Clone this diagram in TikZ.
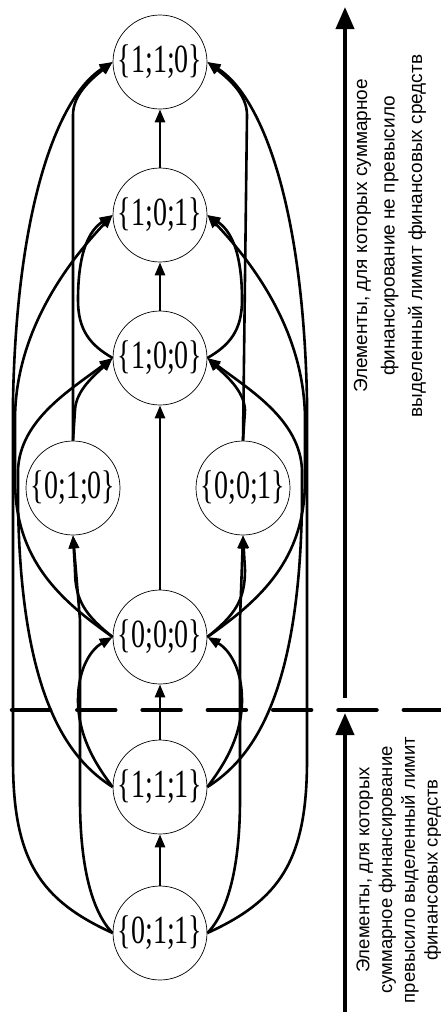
\documentclass[tikz,border=0pt]{standalone}
\usepackage{fontspec}
\setmainfont{Liberation Serif}
\setsansfont{Liberation Sans}
\usetikzlibrary{arrows.meta}
\tikzset{
  st/.style={circle, draw, line width=0.7pt, minimum size=94pt, inner sep=0pt, font=\fontsize{40}{40}\selectfont},
  ed/.style={line width=2.6pt, -{Triangle[length=13pt,width=10pt]}},
  big/.style={line width=4pt, -{Triangle[length=22pt,width=18pt]}},
  lbl/.style={rotate=90, align=center, font=\sffamily\fontsize{19}{27.5}\selectfont},
  lbl2/.style={rotate=90, align=center, font=\sffamily\fontsize{18.5}{22.7}\selectfont},
}
\newcommand{\st}[1]{\scalebox{0.7}[1]{#1}}
\begin{document}
\begin{tikzpicture}[x=1pt,y=-1pt]
\useasboundingbox (0,0) rectangle (441,1012);
\node[st] (A) at (160,62) {\st{\{1;1;0\}}};
\node[st] (B) at (160,215) {\st{\{1;0;1\}}};
\node[st] (C) at (160,358) {\st{\{1;0;0\}}};
\node[st] (D) at (73,488) {\st{\{0;1;0\}}};
\node[st] (E) at (243,488) {\st{\{0;0;1\}}};
\node[st] (F) at (160,637) {\st{\{0;0;0\}}};
\node[st] (G) at (160,787) {\st{\{1;1;1\}}};
\node[st] (H) at (160,933) {\st{\{0;1;1\}}};
% straight
\draw[ed] (B) -- (A);
\draw[ed] (C) -- (B);
\draw[ed] (F) -- (C);
\draw[ed] (G) -- (F);
\draw[ed] (H) -- (G);
% D, E upwards
\draw[ed] (D.north) -- (73,115) .. controls (73,95) and (90,80) .. (A.west);
\draw[ed] (D.north) -- (75,410) .. controls (76,390) and (95,375) .. (C.west);
\draw[ed] (E.north) -- (247,115) .. controls (247,95) and (230,80) .. (A.east);
\draw[ed] (E.north) -- (245,410) .. controls (244,390) and (225,375) .. (C.east);
% F to D, E
\draw[ed] (F.west) .. controls (85,615) and (75,600) .. (75,570) -- (D.south);
\draw[ed] (F.east) .. controls (235,615) and (245,600) .. (245,570) -- (E.south);
% outer
\draw[ed] (H.west) .. controls (40,900) and (13,860) .. (13,760) -- (13,400) .. controls (17,200) and (60,95) .. (A.west);
\draw[ed] (H.east) .. controls (280,900) and (307,860) .. (307,760) -- (307,400) .. controls (303,200) and (260,95) .. (A.east);
% F to B
\draw[ed] (F.west) .. controls (60,600) and (15,560) .. (15,480) -- (15,420) .. controls (15,330) and (70,260) .. (B.west);
\draw[ed] (F.east) .. controls (260,600) and (305,560) .. (305,480) -- (305,420) .. controls (305,330) and (250,260) .. (B.east);
% C to B side
\draw[ed] (C.west) .. controls (90,345) and (78,330) .. (78,300) .. controls (78,250) and (90,230) .. (B.west);
\draw[ed] (C.east) .. controls (230,345) and (242,330) .. (242,300) .. controls (242,250) and (230,230) .. (B.east);
% G
\draw[ed] (G.west) .. controls (100,770) and (78,740) .. (78,700) .. controls (78,670) and (90,650) .. (F.west);
\draw[ed] (G.east) .. controls (220,770) and (242,740) .. (242,700) .. controls (242,670) and (230,650) .. (F.east);
\draw[ed] (G.west) .. controls (70,760) and (20,700) .. (18,500) -- (18,470) .. controls (20,420) and (70,390) .. (C.west);
\draw[ed] (G.east) .. controls (250,760) and (300,700) .. (302,500) -- (302,470) .. controls (300,420) and (250,390) .. (C.east);
% H
\draw[ed] (H.west) .. controls (90,910) and (80,860) .. (80,800) -- (80,620) -- (D.south);
\draw[ed] (H.east) .. controls (230,910) and (240,860) .. (240,800) -- (240,620) -- (E.south);
% dashed boundary
\coordinate (d0) at (12,710);
\coordinate (d1) at (441,710);
\draw[line width=4.5pt, line cap=round, dash pattern=on 38pt off 27.3pt] (d0) -- (d1);
% side arrows
\coordinate (u0) at (345,698);
\coordinate (u1) at (345,7);
\draw[big] (u0) -- (u1);
\coordinate (l0) at (345,1012);
\coordinate (l1) at (345,713);
\draw[big] (l0) -- (l1);
\node[lbl] (T1) at (390,236) {Элементы, для которых суммарное\\финансирование не превысило\\выделенный лимит финансовых средств};
\node[lbl2] (T2) at (399,870) {Элементы, для которых\\суммарное финансирование\\превысило выделенный лимит\\финансовых средств};
\end{tikzpicture}
\end{document}
